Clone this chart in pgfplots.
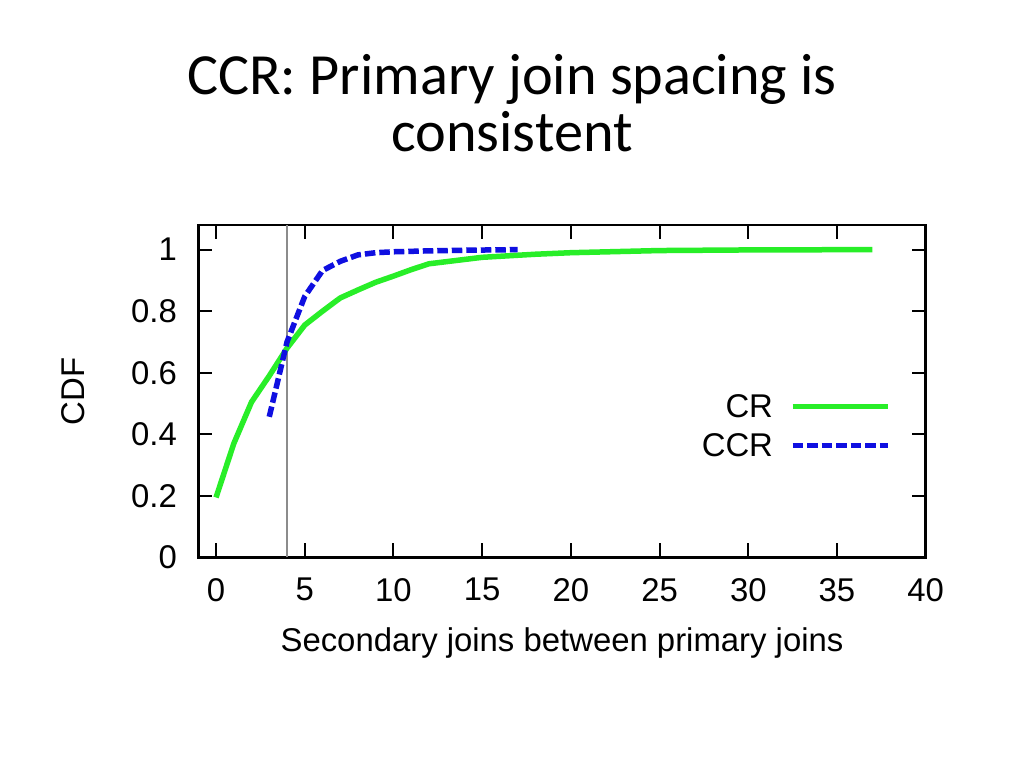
\documentclass[border=0pt]{standalone}
\usepackage{fontspec}
\setmainfont{Liberation Sans}
\newfontfamily\titlefont{Carlito}
\usepackage{pgfplots}
\pgfplotsset{compat=1.18}
\definecolor{crgreen}{RGB}{40,238,40}
\definecolor{ccrblue}{RGB}{15,15,225}
\begin{document}
\begin{tikzpicture}
\path[use as bounding box, fill=white] (0,0) rectangle (1024bp,768bp);
\node[anchor=base, font=\titlefont\fontsize{58.5}{58.5}\selectfont] at (512bp,673bp) {CCR: Primary join spacing is};
\node[anchor=base, font=\titlefont\fontsize{58.5}{58.5}\selectfont] at (512bp,616.3bp) {consistent};
\begin{axis}[
    at={(198.3bp,210.5bp)}, anchor=south west,
    scale only axis, width=727.4bp, height=332.5bp,
    xmin=-1, xmax=40, ymin=0, ymax=1.08,
    xtick={0,5,...,40}, ytick={0,0.2,0.4,0.6,0.8,1},
    tick align=inside, major tick length=14bp,
    axis line style={line width=2.5bp},
    tick style={line width=2bp, black},
    /pgf/number format/assume math mode=true,
    ticklabel style={font=\fontsize{33}{40}\selectfont, inner sep=0pt},
    xticklabel style={yshift=-20.5bp},
    yticklabel style={xshift=-21.3bp},
    xlabel={Secondary joins between primary joins},
    ylabel={CDF},
    label style={font=\fontsize{33}{40}\selectfont, inner sep=0pt},
    xlabel style={at={(axis description cs:0.5,-0.2833)}, anchor=base},
    ylabel style={at={(axis description cs:-0.1571,0.5)}, anchor=base},
    legend style={draw=none, fill=none, at={(0.9527,0.4917)}, anchor=north east,
        inner sep=0pt, row sep=14.5bp, column sep=17bp, nodes={inner sep=0pt},
        font=\fontsize{33}{40}\selectfont, legend cell align=right},
    legend plot pos=right,
    legend image code/.code={\draw[#1] (0bp,0bp) -- (95.6bp,0bp);},
]
\addplot[gray!90, line width=2.8bp, forget plot] coordinates {(4,0) (4,1.08)};
\addplot[crgreen, line width=5.5bp] coordinates {
    (0,0.195) (1,0.37) (2,0.505) (3,0.59) (4,0.68) (5,0.755) (6,0.80)
    (7,0.843) (8,0.869) (9,0.894) (10,0.914) (11,0.935)
    (12,0.954) (15,0.975) (18,0.985) (20,0.99) (25,0.997) (30,0.999) (37,1.0)};
\addlegendentry{CR}
\addplot[ccrblue, line width=5.5bp, dash pattern=on 10.5bp off 4bp] coordinates {
    (3,0.457) (4,0.70) (5,0.848) (6,0.932) (7,0.962) (8,0.983)
    (9,0.99) (10,0.993) (12,0.996) (14,0.998) (17,1.0)};
\addlegendentry{CCR}
\end{axis}
\end{tikzpicture}
\end{document}
